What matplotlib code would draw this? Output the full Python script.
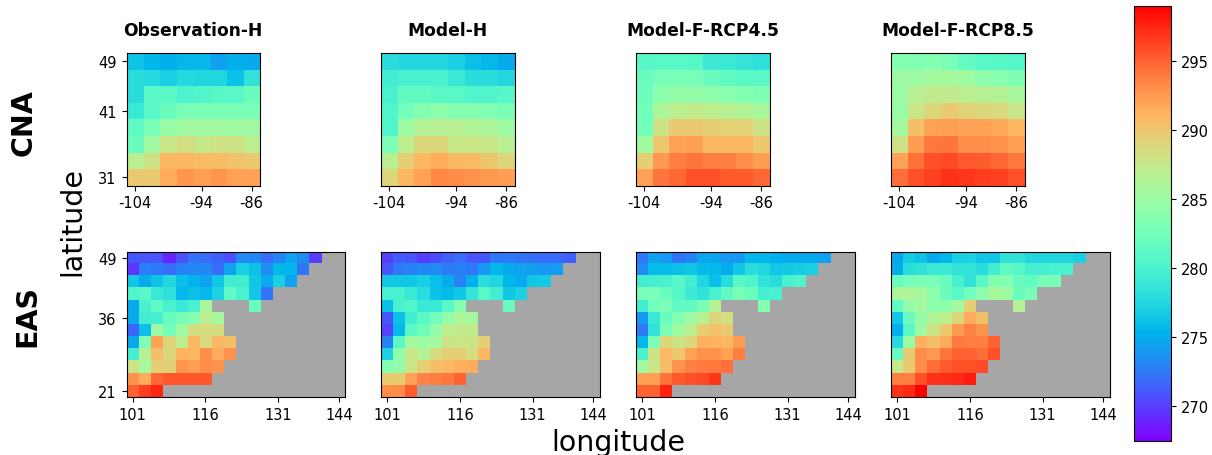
# -*- coding: utf-8 -*-
import numpy as np
from matplotlib import pyplot as plt
from matplotlib import cm, colors

nan = np.nan
W, H = 1212.0, 456.0

titles = ['Observation-H', 'Model-H', 'Model-F-RCP4.5', 'Model-F-RCP8.5']

cna_x_pos = [0, 4, 7]
cna_x_labels = ['-104', '-94', '-86']
cna_y_pos = [0, 3, 7]
cna_y_labels = ['49', '41', '31']
eas_x_pos = [0, 6, 12, 17]
eas_x_labels = ['101', '116', '131', '144']
eas_y_pos = [0, 5, 11]
eas_y_labels = ['49', '36', '21']
cbar_ticks = [270, 275, 280, 285, 290, 295]
t_min, t_max = 267.5, 299.0

##CNA 8x8, north at top
cna_obs = [
    [276.3, 275.6, 275.2, 275.7, 275.7, 274.3, 275.2, 275.0],
    [278.0, 277.8, 277.0, 277.8, 277.5, 277.5, 276.2, 278.5],
    [278.0, 281.0, 281.0, 280.2, 280.5, 280.8, 281.0, 282.0],
    [279.0, 281.0, 282.0, 283.0, 283.0, 283.0, 283.0, 283.0],
    [281.5, 283.0, 284.8, 285.3, 285.3, 285.3, 285.0, 285.3],
    [282.0, 285.3, 287.8, 288.3, 287.5, 288.0, 288.0, 287.0],
    [286.8, 288.0, 290.9, 291.0, 290.7, 290.7, 290.2, 289.8],
    [289.8, 289.8, 291.5, 292.7, 292.2, 292.7, 292.0, 292.0],
]
cna_hist = [
    [278.0, 277.7, 277.7, 277.7, 277.0, 276.0, 275.7, 275.0],
    [279.5, 280.0, 280.0, 280.0, 279.0, 278.0, 278.0, 277.7],
    [280.0, 281.5, 281.5, 281.0, 281.0, 280.5, 280.5, 280.8],
    [280.5, 282.5, 283.5, 284.0, 283.7, 283.5, 283.3, 283.0],
    [280.5, 285.0, 286.5, 286.8, 286.8, 286.3, 286.0, 285.2],
    [283.0, 287.0, 289.0, 289.0, 287.7, 287.7, 287.6, 286.7],
    [286.8, 289.5, 291.0, 291.5, 290.8, 290.8, 290.0, 289.0],
    [289.0, 291.0, 292.0, 293.3, 293.2, 292.8, 292.5, 292.3],
]
cna_rcp45 = [
    [280.8, 281.0, 281.0, 280.8, 279.3, 279.0, 278.6, 278.3],
    [282.0, 282.8, 283.0, 282.8, 282.0, 281.5, 281.0, 281.0],
    [282.2, 284.0, 284.5, 284.5, 284.2, 283.8, 283.5, 283.2],
    [282.5, 286.0, 287.0, 287.3, 287.0, 286.8, 286.4, 285.8],
    [282.5, 288.0, 289.8, 289.8, 289.5, 289.3, 289.3, 288.0],
    [285.3, 290.0, 292.0, 292.2, 291.0, 291.0, 291.0, 290.0],
    [289.5, 292.5, 293.8, 294.2, 293.8, 293.6, 293.0, 292.3],
    [292.0, 294.2, 294.8, 295.8, 295.8, 295.3, 295.3, 294.8],
]
cna_rcp85 = [
    [283.5, 283.3, 283.7, 283.0, 281.7, 281.0, 280.8, 280.6],
    [285.2, 285.2, 285.5, 285.5, 285.3, 284.2, 283.8, 283.2],
    [285.0, 286.8, 287.2, 287.2, 287.0, 286.8, 286.5, 285.8],
    [284.8, 287.8, 289.0, 289.8, 289.2, 289.0, 288.7, 287.7],
    [285.5, 290.5, 292.0, 292.2, 292.0, 292.0, 291.7, 291.0],
    [288.0, 292.3, 294.0, 294.2, 293.0, 293.0, 292.8, 292.2],
    [292.0, 294.3, 295.8, 296.0, 295.4, 295.3, 294.8, 294.0],
    [294.5, 295.8, 296.3, 297.0, 296.8, 296.5, 296.3, 295.8],
]

##EAS 12 rows x 18 cols, rows stop where the ocean starts
eas_obs = [
    [271, 271, 271, 269, 270.8, 272.2, 272, 271.5, 270.8, 273.3, 273.2, 272, 273, 274.5, 273.5, 270],
    [269.6, 272.8, 272.5, 272, 273, 273.2, 273.2, 272, 274.5, 277, 276.2, 273.5, 275.5, 275.5, 272.3],
    [276.5, 275, 276.3, 277.5, 276, 275.4, 274.5, 276.5, 279.5, 279.5, 276.5, 275, 277, 274.5],
    [280.5, 281, 279, 278.3, 275.7, 276, 275.7, 277.3, 281.3, 280, 276.5, 272.3],
    [275, 280, 281.5, 280, 279, 280, 286, nan, nan, nan, 282],
    [274.8, 279.5, 279.8, 282, 282.8, 283.5, 287, 285.5],
    [271.8, 276, 285, 282.5, 285.2, 288.5, 288.5, 288.5],
    [274.8, 283.3, 292, 289, 287, 291, 288.7, 291, 290.5],
    [279.8, 286.8, 290.5, 289, 291.2, 291, 293, 291.5, 292.8],
    [288, 285.5, 289.5, 289.5, 292.7, 292.2, 293, 292.8],
    [292.8, 291.5, 294.7, 295.5, 295.5, 295.5, 295.5],
    [295, 296.5, 297.5],
]
eas_hist = [
    [270.2, 271.3, 271, 270, 270.5, 271.5, 272, 271, 271, 272.5, 272.6, 272.3, 272.1, 272, 272, 271.5],
    [271, 272.5, 273, 273.2, 273.3, 272.6, 272.8, 272.5, 274, 275.5, 275, 274.5, 274.2, 274, 274.2],
    [276.5, 276.5, 276.5, 277, 276, 275, 273, 275.2, 278, 277.5, 275.5, 275, 276.5, 276.7],
    [280, 280, 279, 278, 276.2, 275.8, 276.5, 278.8, 281, 279.5, 276.5, 277.2],
    [276, 280, 280.5, 279, 279, 281, 283.5, nan, nan, nan, 282],
    [271, 276, 279.5, 281, 282.5, 284.5, 286, 285.7],
    [270.3, 275.7, 281, 282.2, 284.5, 287, 287.3, 287.2],
    [273, 281, 285.5, 285, 285.5, 288, 287.8, 288, 289.5],
    [277.3, 284, 287.8, 286.5, 288.5, 289.5, 289.5, 288.5, 291],
    [283.5, 284.5, 287.7, 289.5, 290.5, 291, 291.3, 291.5],
    [289.7, 289.7, 292, 293.5, 293.8, 294, 295],
    [293, 293.2, 295.2],
]
eas_rcp45 = [
    [272.5, 274.5, 274, 272.3, 273, 274.7, 274.7, 274, 274, 275.6, 275.7, 275.3, 275, 275, 275, 274.5],
    [273.5, 275.8, 275.8, 276, 276.4, 275.8, 275.7, 275, 276.5, 278, 277.5, 276.6, 276.7, 276.8, 277],
    [279.5, 279.7, 280, 280.8, 279.5, 277.5, 276, 278, 281, 280.3, 278.5, 278, 280, 280.5],
    [283, 282.8, 282, 280.7, 279.2, 278.5, 280, 281.5, 283, 282, 279.8, 280],
    [279.5, 282.5, 283, 281.5, 281.5, 283, 286.5, nan, nan, nan, 283.5],
    [274, 279, 282, 283.5, 285, 286.7, 288.8, 288.3],
    [272.6, 278.5, 283, 285, 287, 289.5, 290.3, 289.8],
    [275.5, 283, 289, 288, 288.8, 291.3, 291.2, 291, 292.3],
    [280, 288, 290.8, 290, 292, 292.8, 292.8, 292, 293.8],
    [285.3, 287.8, 290.6, 292.8, 293.6, 294, 294, 294.4],
    [292.2, 292.2, 294.3, 295.4, 295.8, 296, 296.8],
    [295, 295, 297.6],
]
eas_rcp85 = [
    [274.7, 276.8, 276.3, 275, 275.5, 277, 277.2, 276.5, 276.5, 278.5, 278.5, 277.7, 277.5, 277.5, 277.5, 277],
    [275, 278, 278.5, 279, 279.2, 278.5, 278.5, 278, 279.5, 281.5, 280.7, 279.7, 279.8, 280, 280],
    [282, 282.5, 283, 283, 282, 280, 278.5, 281, 283.5, 283.5, 282, 281.5, 283, 282.8],
    [286, 286.3, 285.5, 284, 282, 281, 282.5, 284, 285.8, 285, 282, 283],
    [281.5, 284.5, 285.5, 284, 284, 285.5, 289.5, nan, nan, nan, 286.5],
    [276.5, 281.8, 284.5, 286.3, 287, 289, 291.5, 290.5],
    [275.2, 281, 285, 288, 290, 292.5, 293.5, 292.8],
    [277.8, 284.8, 291.3, 290.5, 291.5, 294, 293.8, 293.6, 295],
    [281.7, 289.7, 293, 292.5, 294.2, 295, 295, 294.5, 295.7],
    [287.5, 289.8, 293, 294.5, 295.4, 295.8, 295.8, 296],
    [293.8, 293.8, 295.8, 297, 297.1, 297.4, 297.8],
    [297, 297.3, 299],
]

cna_data = [cna_obs, cna_hist, cna_rcp45, cna_rcp85]
eas_data = [eas_obs, eas_hist, eas_rcp45, eas_rcp85]


def px_axes(fig, left, top, right, bottom):
    return fig.add_axes([left / W, 1 - bottom / H, (right - left) / W, (bottom - top) / H])


def to_grid(rows, ncol):
    # short rows are filled with nan, drawn grey
    return np.array([list(r) + [nan] * (ncol - len(r)) for r in rows], dtype=float)


cmap = plt.get_cmap('rainbow').copy()
cmap.set_bad('#a6a6a6')
norm = colors.Normalize(vmin=t_min, vmax=t_max)

fig = plt.figure(figsize=(W / 100, H / 100), dpi=100)

left_px = [126.5, 381, 636, 891]
tick_fs = 10.5

for i in range(4):
    ax = px_axes(fig, left_px[i], 54, left_px[i] + 133.5, 186.5)
    ax.imshow(to_grid(cna_data[i], 8), cmap=cmap, norm=norm, aspect='auto', interpolation='nearest')
    ax.set_xticks(cna_x_pos)
    ax.set_xticklabels(cna_x_labels, fontsize=tick_fs)
    ax.set_title(titles[i], fontsize=12.3, fontweight='bold', pad=13)
    if i == 0:
        ax.set_yticks(cna_y_pos)
        ax.set_yticklabels(cna_y_labels, fontsize=tick_fs)
    else:
        ax.set_yticks([])

    ax = px_axes(fig, left_px[i], 252.5, left_px[i] + 218.5, 398)
    ax.imshow(to_grid(eas_data[i], 18), cmap=cmap, norm=norm, aspect='auto', interpolation='nearest')
    ax.set_xticks(eas_x_pos)
    ax.set_xticklabels(eas_x_labels, fontsize=tick_fs)
    if i == 0:
        ax.set_yticks(eas_y_pos)
        ax.set_yticklabels(eas_y_labels, fontsize=tick_fs)
    else:
        ax.set_yticks([])

cax = px_axes(fig, 1134, 7, 1171, 442)
cb = fig.colorbar(cm.ScalarMappable(norm=norm, cmap=cmap), cax=cax, ticks=cbar_ticks)
cb.ax.tick_params(labelsize=tick_fs)

fig.text(24 / W, 1 - 122.5 / H, 'CNA', fontsize=20.5, fontweight='bold', rotation=90, ha='center', va='center')
fig.text(27 / W, 1 - 316 / H, 'EAS', fontsize=20.5, fontweight='bold', rotation=90, ha='center', va='center')
fig.text(72 / W, 1 - 222 / H, 'latitude', fontsize=20.5, rotation=90, ha='center', va='center')
fig.text(618 / W, 1 - 443 / H, 'longitude', fontsize=20.5, ha='center', va='center')

fig.savefig('out.png', dpi=100)
